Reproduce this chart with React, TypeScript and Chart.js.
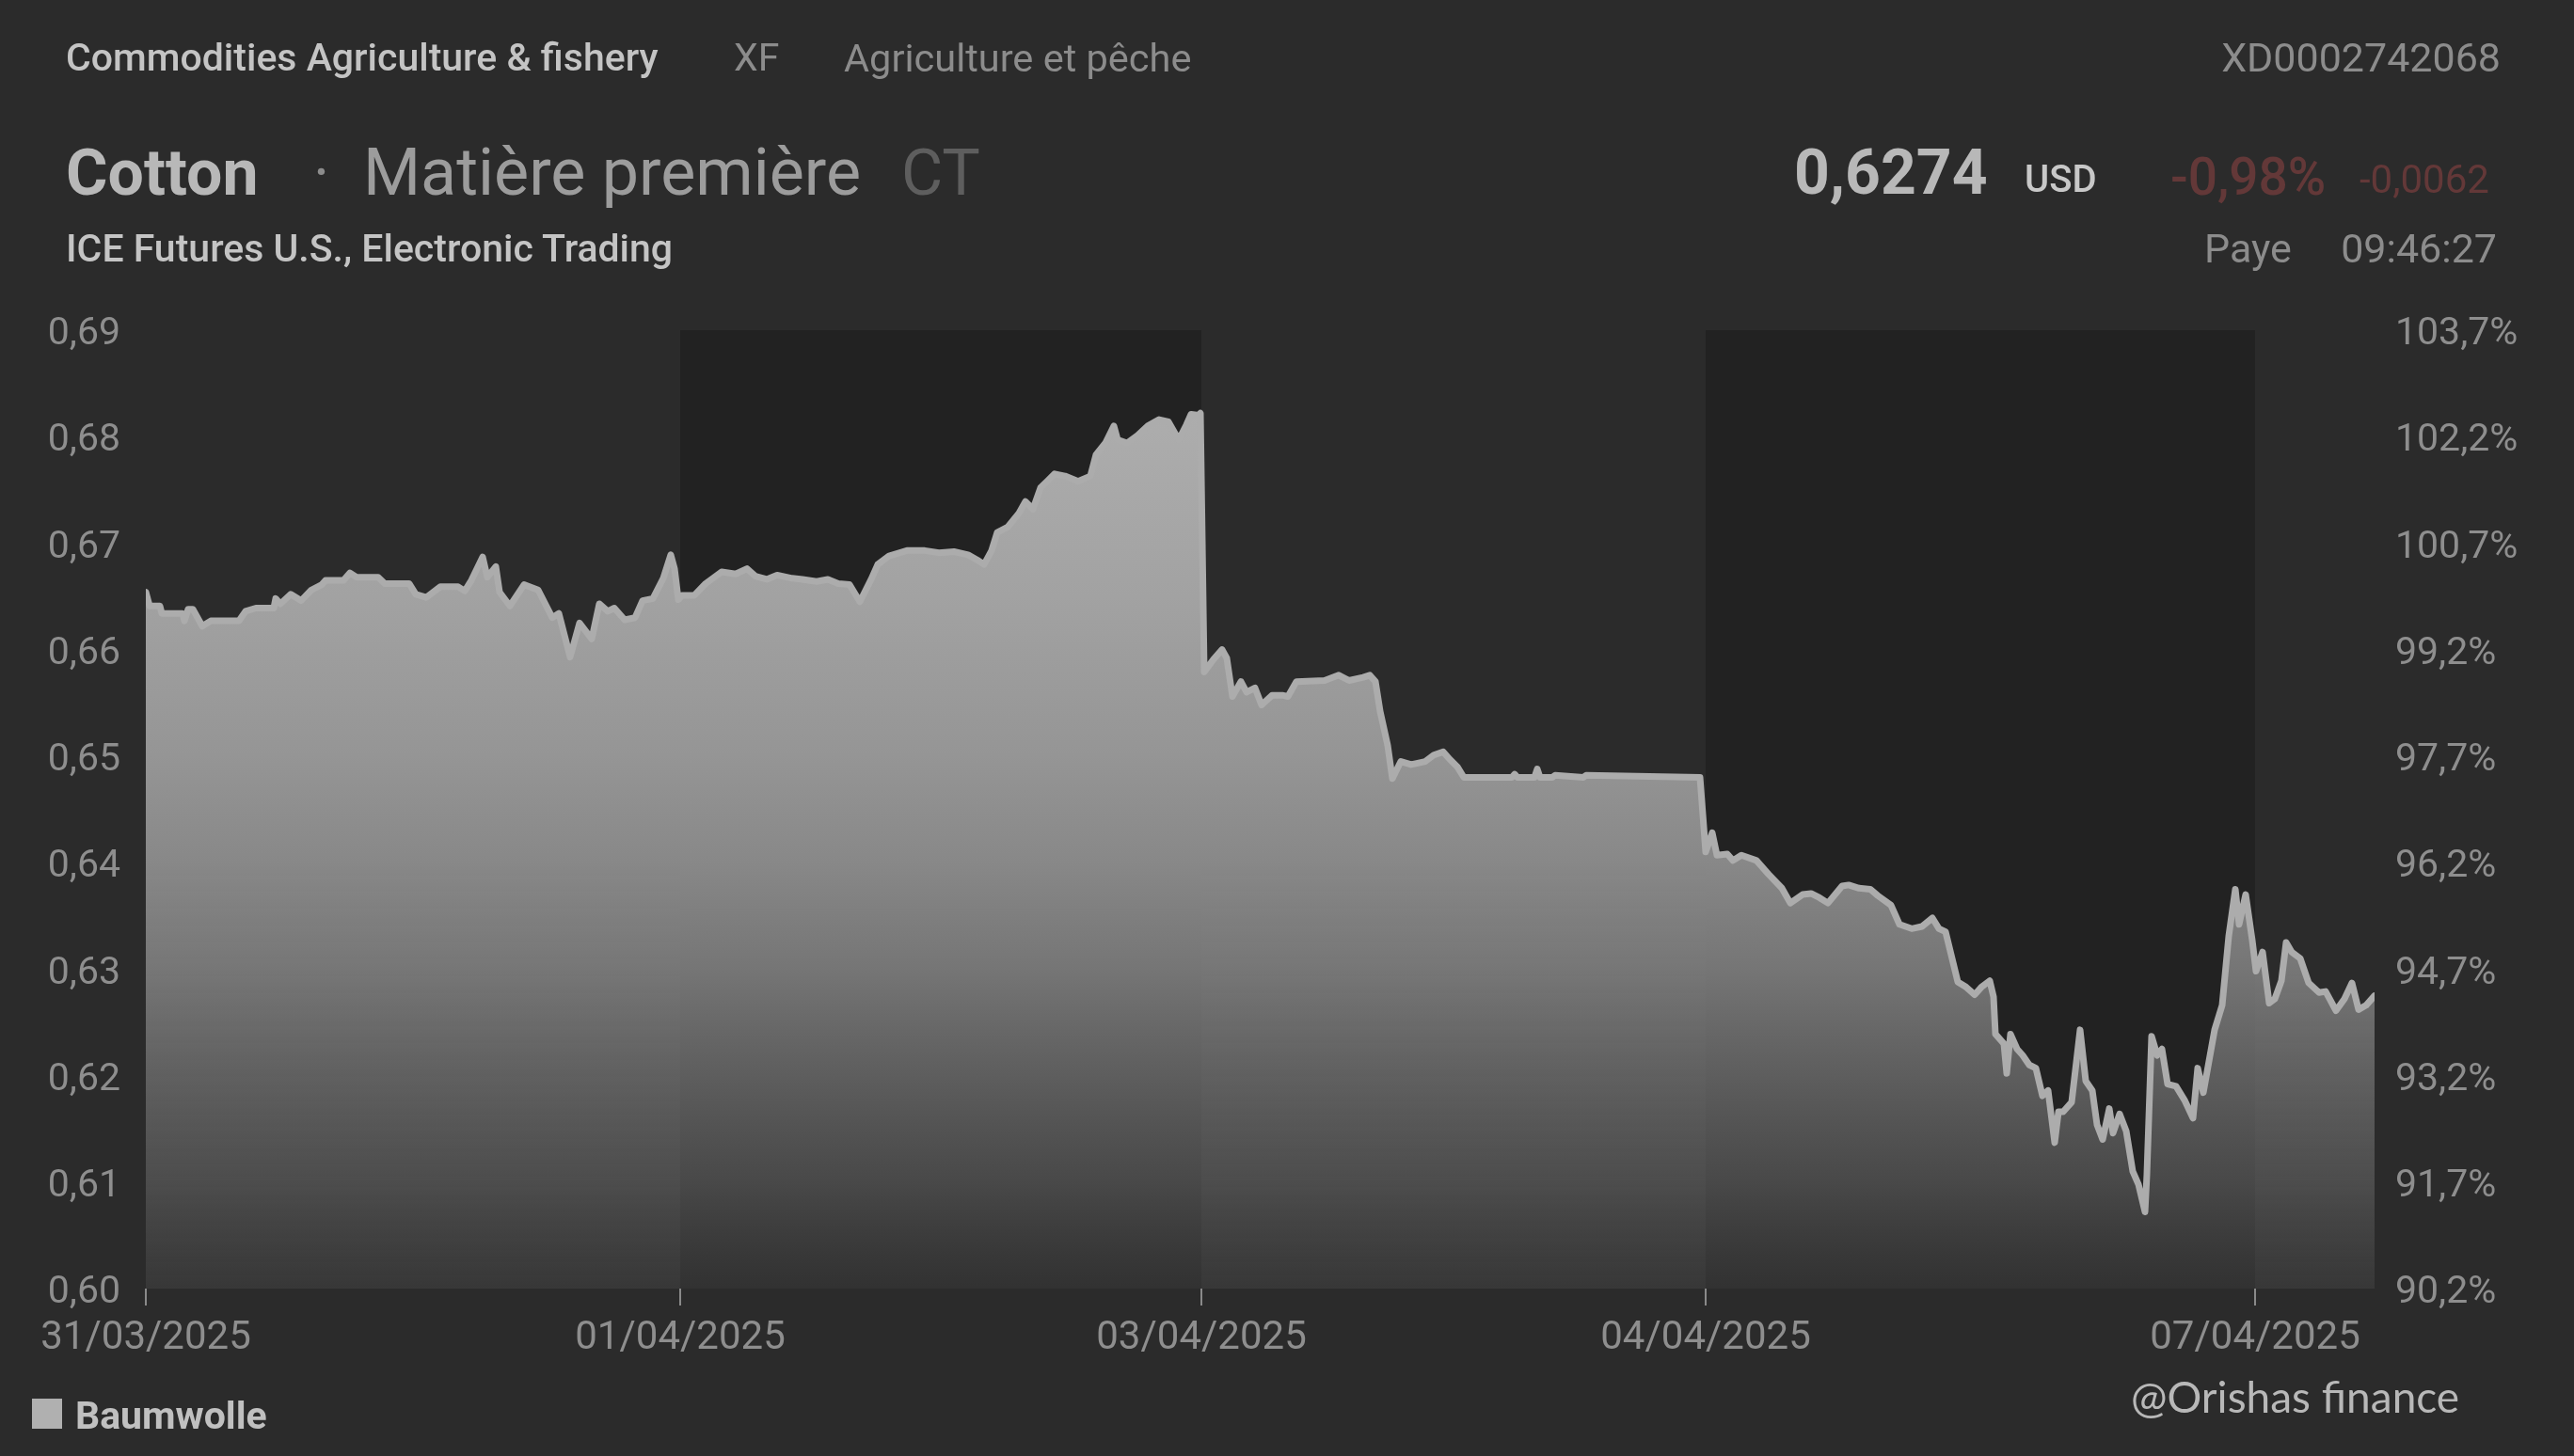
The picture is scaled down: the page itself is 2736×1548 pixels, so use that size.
import { useEffect, useRef } from 'react';
import { Chart, registerables } from 'chart.js';

Chart.register(...registerables);

// ---- Data ----
// x positions of the quotes along the session time axis (arbitrary session units)
const dayTicks = [0, 568, 1122, 1658, 2242];
const dayLabels = ['31/03/2025', '01/04/2025', '03/04/2025', '04/04/2025', '07/04/2025'];
const sessionEnd = 2369;
const baseValue = 0.6653; // reference price for the % axis

const yMin = 0.6;
const yMax = 0.69;
const yStep = 0.01;

const day1Times = [0, 4, 15, 17, 39, 41, 45, 50, 60, 69, 99, 106, 117, 136, 138, 143, 154, 165, 176, 187, 191, 210, 217, 224, 247, 254, 280, 287, 298, 313, 332, 339, 346, 358, 363, 372, 376, 387, 402, 417, 432, 439, 451, 461, 474, 482, 491, 498, 509, 520, 528, 539, 550, 558, 562];
const day1Prices = [0.6654, 0.6641, 0.6641, 0.6634, 0.6634, 0.6627, 0.6638, 0.6638, 0.6622, 0.6627, 0.6627, 0.6636, 0.6639, 0.6639, 0.6648, 0.6643, 0.6652, 0.6646, 0.6656, 0.6661, 0.6665, 0.6665, 0.6672, 0.6668, 0.6668, 0.6662, 0.6662, 0.6652, 0.6649, 0.6659, 0.6659, 0.6655, 0.6665, 0.6687, 0.6668, 0.6678, 0.6654, 0.6641, 0.6661, 0.6656, 0.663, 0.6634, 0.6593, 0.6625, 0.661, 0.6643, 0.6636, 0.6639, 0.6628, 0.663, 0.6646, 0.6648, 0.6667, 0.6689, 0.6676];

const day2Times = [566, 570, 583, 595, 612, 627, 639, 648, 660, 671, 687, 698, 713, 725, 736, 748, 759, 771, 778, 790, 809, 828, 843, 859, 874, 884, 891, 899, 905, 916, 928, 935, 943, 951, 958, 966, 977, 991, 1004, 1010, 1020, 1029, 1033, 1043, 1054, 1065, 1077, 1087, 1098, 1106, 1111, 1119, 1121];
const day2Prices = [0.6647, 0.6651, 0.6651, 0.6662, 0.6673, 0.6671, 0.6676, 0.6669, 0.6666, 0.667, 0.6667, 0.6666, 0.6664, 0.6666, 0.6662, 0.6661, 0.6645, 0.6666, 0.668, 0.6688, 0.6693, 0.6693, 0.6691, 0.6692, 0.6689, 0.6684, 0.668, 0.6693, 0.671, 0.6715, 0.6728, 0.6739, 0.6732, 0.6752, 0.6758, 0.6765, 0.6763, 0.6758, 0.6763, 0.6783, 0.6794, 0.681, 0.6797, 0.6794, 0.6801, 0.681, 0.6816, 0.6814, 0.6797, 0.6811, 0.6821, 0.682, 0.6822];

const day3Times = [1125, 1135, 1144, 1149, 1155, 1164, 1170, 1179, 1186, 1197, 1209, 1214, 1223, 1253, 1268, 1279, 1294, 1301, 1307, 1312, 1320, 1325, 1334, 1345, 1360, 1369, 1379, 1386, 1394, 1401, 1452, 1455, 1458, 1476, 1479, 1482, 1495, 1498, 1528, 1531, 1652];
const day3Prices = [0.6579, 0.6591, 0.66, 0.6592, 0.6556, 0.657, 0.656, 0.6564, 0.6548, 0.6557, 0.6557, 0.6556, 0.657, 0.6571, 0.6576, 0.6571, 0.6574, 0.6576, 0.657, 0.6542, 0.651, 0.6479, 0.6495, 0.6492, 0.6495, 0.6501, 0.6504, 0.6497, 0.649, 0.648, 0.648, 0.6483, 0.648, 0.648, 0.6488, 0.648, 0.648, 0.6482, 0.648, 0.6482, 0.648];

const day4Times = [1658, 1665, 1670, 1681, 1687, 1696, 1712, 1725, 1739, 1748, 1761, 1770, 1779, 1788, 1803, 1810, 1821, 1833, 1841, 1855, 1864, 1877, 1888, 1899, 1906, 1913, 1926, 1935, 1944, 1951, 1960, 1964, 1966, 1975, 1978, 1982, 1989, 1995, 2002, 2009, 2016, 2022, 2029, 2033, 2038, 2047, 2056, 2062, 2069, 2074, 2080, 2087, 2091, 2098, 2105, 2112, 2118, 2125, 2127, 2132, 2138, 2143, 2149, 2158, 2167, 2176, 2181, 2187, 2199, 2207, 2214, 2221, 2225, 2232, 2239];
const day4Prices = [0.641, 0.6428, 0.6407, 0.6408, 0.6402, 0.6407, 0.6402, 0.6389, 0.6376, 0.6362, 0.637, 0.6371, 0.6367, 0.6362, 0.6378, 0.6379, 0.6376, 0.6375, 0.6369, 0.636, 0.6342, 0.6338, 0.634, 0.6348, 0.6338, 0.6335, 0.6288, 0.6283, 0.6276, 0.6283, 0.6289, 0.6274, 0.6239, 0.623, 0.6202, 0.6239, 0.6225, 0.6219, 0.621, 0.6207, 0.6181, 0.6186, 0.6137, 0.6166, 0.6166, 0.6175, 0.6243, 0.6195, 0.6186, 0.6154, 0.614, 0.6169, 0.6146, 0.6164, 0.6148, 0.611, 0.6098, 0.6072, 0.6107, 0.6237, 0.6219, 0.6225, 0.6192, 0.619, 0.6177, 0.616, 0.6207, 0.6184, 0.6243, 0.6266, 0.6331, 0.6375, 0.6342, 0.637, 0.6327];

const day5Times = [2243, 2250, 2257, 2263, 2270, 2275, 2281, 2290, 2299, 2310, 2317, 2328, 2337, 2345, 2352, 2360, 2369];
const day5Prices = [0.6298, 0.6316, 0.6268, 0.6272, 0.6289, 0.6325, 0.6316, 0.631, 0.6287, 0.6278, 0.6279, 0.6261, 0.6272, 0.6287, 0.6262, 0.6266, 0.6275];

const seriesName = 'Baumwolle';

// ---- Styles ----
const BG = '#2b2b2b';
const BAND = '#222222';
const LINE = '#acacac';
const TICK = '#8e8e8e';
const RED = '#633838';

const fillStops: [number, string][] = [
  [0.69, 'rgba(178,178,178,1)'],
  [0.665, 'rgba(162,162,162,1)'],
  [0.65, 'rgba(149,149,149,1)'],
  [0.64, 'rgba(136,136,136,1)'],
  [0.63, 'rgba(132,132,132,0.85)'],
  [0.62, 'rgba(119,119,119,0.7)'],
  [0.61, 'rgba(111,111,111,0.5)'],
  [0.6, 'rgba(86,86,86,0.3)'],
];

const fmtComma = (v: number, d: number) => v.toFixed(d).replace('.', ',');

type TextSpec = {
  text: string;
  left?: number;
  right?: number;
  baseline: number;
  size: number;
  weight?: number;
  color: string;
  family?: string;
  ratio?: number;
};

const texts: TextSpec[] = [
  { text: 'Commodities Agriculture & fishery', left: 70, baseline: 76, size: 41, weight: 500, color: '#c4c4c4' },
  { text: 'XF', left: 780, baseline: 76, size: 41, color: '#8c8c8c' },
  { text: 'Agriculture et pêche', left: 897, baseline: 76, size: 41.5, color: '#8c8c8c' },
  { text: 'XD0002742068', right: 78, baseline: 76, size: 43, color: '#8c8c8c' },
  { text: 'Cotton', left: 70, baseline: 207, size: 68, weight: 700, color: '#b8b8b8' },
  { text: '·', left: 333, baseline: 207, size: 66, color: '#8c8c8c' },
  { text: 'Matière première', left: 386, baseline: 207, size: 70, color: '#9c9c9c' },
  { text: 'CT', left: 958, baseline: 207, size: 68, color: '#5e5e5e' },
  { text: '0,6274', left: 1907, baseline: 207, size: 66, weight: 700, color: '#b8b8b8' },
  { text: 'USD', left: 2152, baseline: 205, size: 40, weight: 500, color: '#c8c8c8' },
  { text: '-0,98%', left: 2307, baseline: 207, size: 55, weight: 500, color: RED },
  { text: '-0,0062', left: 2508, baseline: 205, size: 42, color: RED },
  { text: 'ICE Futures U.S., Electronic Trading', left: 70, baseline: 279, size: 41, weight: 500, color: '#c4c4c4' },
  { text: 'Paye', left: 2343, baseline: 279, size: 43, color: '#8c8c8c' },
  { text: '09:46:27', right: 82, baseline: 279, size: 43, color: '#8c8c8c' },
  { text: seriesName, left: 80, baseline: 1520, size: 41, weight: 700, color: '#c0c0c0' },
  { text: '@Orishas finance', left: 2265, baseline: 1503, size: 46, color: '#b8b8b8', family: 'Lato', ratio: 0.887 },
];

export default function App() {
  const canvasRef = useRef<HTMLCanvasElement | null>(null);

  useEffect(() => {
    document.body.style.margin = '0';
    document.body.style.background = BG;
    const canvas = canvasRef.current;
    if (!canvas) return;

    const times = [...day1Times, ...day2Times, ...day3Times, ...day4Times, ...day5Times];
    const prices = [...day1Prices, ...day2Prices, ...day3Prices, ...day4Prices, ...day5Prices];
    const points = times.map((t, i) => ({ x: t, y: prices[i] }));
    const shadedDays = [
      [dayTicks[1], dayTicks[2]],
      [dayTicks[3], dayTicks[4]],
    ];

    const bandPlugin = {
      id: 'dayBands',
      beforeDatasetsDraw(chart: any) {
        const { ctx, chartArea, scales } = chart;
        const xs = scales.x;
        ctx.save();
        ctx.fillStyle = BAND;
        shadedDays.forEach(([a, b]) => {
          const x1 = xs.getPixelForValue(a);
          const x2 = xs.getPixelForValue(b);
          ctx.fillRect(x1, chartArea.top, x2 - x1, chartArea.bottom - chartArea.top);
        });
        ctx.restore();
      },
    };

    Chart.defaults.font.family = 'Roboto';

    const chart = new Chart(canvas, {
      type: 'line',
      data: {
        datasets: [
          {
            label: seriesName,
            data: points,
            borderColor: LINE,
            borderWidth: 7,
            pointRadius: 0,
            tension: 0,
            borderJoinStyle: 'round',
            borderCapStyle: 'round',
            fill: 'start',
            backgroundColor: (c: any) => {
              const ch = c.chart;
              const area = ch.chartArea;
              if (!area) return 'rgba(0,0,0,0)';
              const ys = ch.scales.y;
              const g = ch.ctx.createLinearGradient(0, area.top, 0, area.bottom);
              fillStops.forEach(([v, col]) => {
                const p = (ys.getPixelForValue(v) - area.top) / (area.bottom - area.top);
                g.addColorStop(Math.min(1, Math.max(0, p)), col);
              });
              return g;
            },
          },
        ],
      },
      options: {
        animation: false,
        responsive: false,
        devicePixelRatio: 1,
        layout: { padding: { top: 351, left: 0, right: 0, bottom: 0 } },
        plugins: {
          legend: { display: false },
          tooltip: { enabled: false },
        },
        scales: {
          x: {
            type: 'linear',
            min: 0,
            max: sessionEnd,
            afterBuildTicks: (s: any) => {
              s.ticks = dayTicks.map((v) => ({ value: v }));
            },
            afterFit: (s: any) => {
              s.height = 178;
            },
            ticks: {
              autoSkip: false,
              maxRotation: 0,
              minRotation: 0,
              color: TICK,
              padding: 10,
              font: { family: 'Roboto', size: 42 },
              callback: (v: any) => {
                const i = dayTicks.indexOf(Number(v));
                return i >= 0 ? dayLabels[i] : '';
              },
            },
            grid: {
              drawOnChartArea: false,
              drawTicks: true,
              tickLength: 18,
              color: '#8a8a8a',
              lineWidth: 2,
            },
            border: { display: false },
          },
          y: {
            position: 'left',
            min: yMin,
            max: yMax,
            afterFit: (s: any) => {
              s.width = 155;
            },
            ticks: {
              stepSize: yStep,
              color: TICK,
              padding: 19,
              labelOffset: 5,
              font: { family: 'Roboto', size: 41 },
              callback: (v: any) => fmtComma(Number(v), 2),
            },
            grid: { display: false },
            border: { display: false },
          },
          y1: {
            position: 'right',
            min: yMin,
            max: yMax,
            afterFit: (s: any) => {
              s.width = 212;
            },
            ticks: {
              stepSize: yStep,
              color: TICK,
              padding: 14,
              labelOffset: 5,
              font: { family: 'Roboto', size: 41 },
              callback: (v: any) => fmtComma((Number(v) / baseValue) * 100, 1) + '%',
            },
            grid: { display: false },
            border: { display: false },
          },
        },
      },
      plugins: [bandPlugin],
    } as any);

    return () => chart.destroy();
  }, []);

  return (
    <div
      style={{
        position: 'relative',
        width: 2736,
        height: 1548,
        background: BG,
        overflow: 'hidden',
        fontFamily: 'Roboto, sans-serif',
      }}
    >
      <canvas
        ref={canvasRef}
        width={2736}
        height={1548}
        style={{ position: 'absolute', left: 0, top: 0, width: 2736, height: 1548, display: 'block' }}
      />
      {texts.map((t, i) => {
        const ratio = t.ratio ?? 0.8415;
        const style: any = {
          position: 'absolute',
          top: t.baseline - ratio * t.size,
          fontSize: t.size,
          lineHeight: `${t.size}px`,
          fontWeight: t.weight ?? 400,
          color: t.color,
          whiteSpace: 'nowrap',
          fontFamily: t.family ? `${t.family}, sans-serif` : 'Roboto, sans-serif',
        };
        if (t.left !== undefined) style.left = t.left;
        if (t.right !== undefined) style.right = t.right;
        return (
          <div key={i} style={style}>
            {t.text}
          </div>
        );
      })}
      <div
        style={{ position: 'absolute', left: 34, top: 1487, width: 32, height: 32, background: '#b0b0b0' }}
      />
    </div>
  );
}
